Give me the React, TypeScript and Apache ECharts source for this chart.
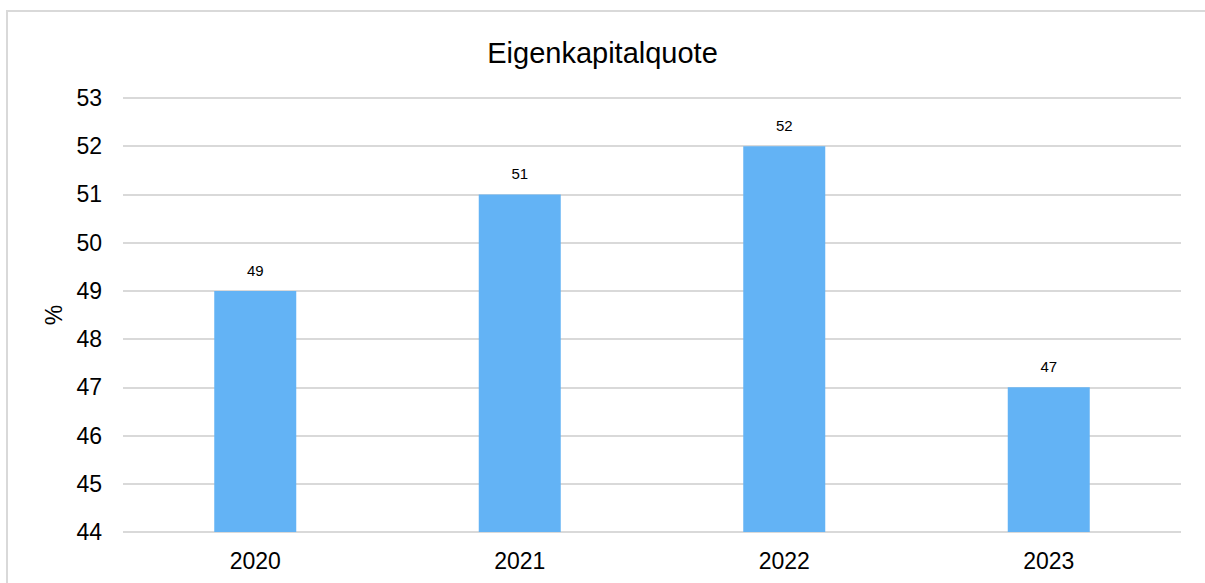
import React, { useEffect, useRef } from "react";
import * as echarts from "echarts";

const categories = ["2020", "2021", "2022", "2023"];
const values = [49, 51, 52, 47];
const yMin = 44;
const yMax = 53;

export default function App() {
  const ref = useRef<HTMLDivElement>(null);
  useEffect(() => {
    if (!ref.current) return;
    const chart = echarts.init(ref.current, null, { renderer: "svg" });
    chart.setOption({
      animation: false,
      backgroundColor: "#ffffff",
      textStyle: { fontFamily: "Liberation Sans, Arial, sans-serif" },
      title: {
        text: "Eigenkapitalquote",
        left: "center",
        top: 33,
        textStyle: { fontSize: 29, fontWeight: "normal", color: "#000", fontFamily: "Liberation Sans, Arial, sans-serif" },
      },
      graphic: [
        {
          type: "rect",
          shape: { x: 7, y: 11, width: 1210, height: 600 },
          style: { fill: "none", stroke: "#d9d9d9", lineWidth: 2 },
          silent: true,
        },
      ],
      grid: { left: 123, right: 24, top: 98, bottom: 51 },
      xAxis: {
        type: "category",
        data: categories,
        axisLine: { show: false },
        axisTick: { show: false },
        axisLabel: { fontSize: 23, color: "#000", margin: 17 },
      },
      yAxis: {
        type: "value",
        min: yMin,
        max: yMax,
        interval: 1,
        name: "%",
        nameLocation: "middle",
        nameRotate: 90,
        nameGap: 57,
        nameTextStyle: { fontSize: 23, color: "#000" },
        axisLine: { show: false },
        axisTick: { show: false },
        axisLabel: { fontSize: 23, color: "#000", margin: 21 },
        splitLine: { lineStyle: { color: "#d9d9d9", width: 2 } },
      },
      series: [
        {
          type: "bar",
          data: values,
          barWidth: "31%",
          itemStyle: { color: "#63b3f5" },
          label: { show: true, position: "top", distance: 13, fontSize: 15, color: "#000" },
        },
      ],
    });
    return () => chart.dispose();
  }, []);
  return <div ref={ref} style={{ position: "fixed", left: 0, top: 0, width: 1205, height: 583 }} />;
}
